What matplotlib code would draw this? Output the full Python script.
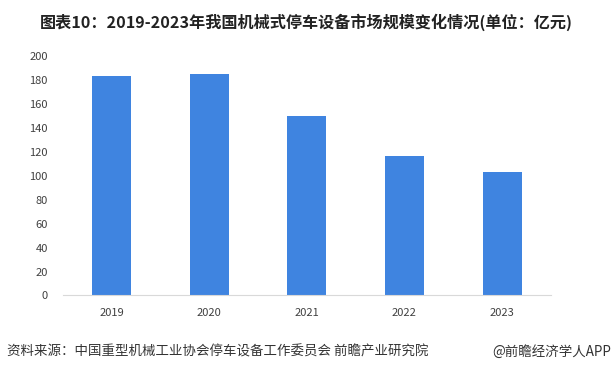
import numpy as np
import matplotlib
matplotlib.use('Agg')
import matplotlib.pyplot as plt

plt.rcParams['font.family'] = ['Noto Sans CJK SC', 'DejaVu Sans']
plt.rcParams['axes.unicode_minus'] = False

years = ['2019', '2020', '2021', '2022', '2023']
values = [183.5, 185, 150, 116.5, 103]
yticks = [0, 20, 40, 60, 80, 100, 120, 140, 160, 180, 200]

title = '图表10：2019-2023年我国机械式停车设备市场规模变化情况(单位：亿元)'
source = '资料来源：中国重型机械工业协会停车设备工作委员会 前瞻产业研究院'
brand = '@前瞻经济学人APP'

fig = plt.figure(figsize=(6.12, 3.74), dpi=100)
ax = fig.add_axes([0.103, 0.21, 0.797, 0.64])

x = np.arange(len(years))
ax.bar(x, values, width=0.4, color='#3f84e0')

ax.set_xlim(-0.5, len(years) - 0.5)
ax.set_ylim(0, 200)
ax.set_xticks(x)
ax.set_xticklabels(years)
ax.set_yticks(yticks)
ax.tick_params(axis='both', length=0, labelsize=8, colors='#404040')
ax.tick_params(axis='x', pad=9)
ax.tick_params(axis='y', pad=11)
for s in ['top', 'right', 'left']:
    ax.spines[s].set_visible(False)
ax.spines['bottom'].set_color('#d9d9d9')
ax.spines['bottom'].set_linewidth(0.8)

fig.text(0.5, 0.94, title, ha='center', va='center', fontsize=11.6,
         fontweight='bold', color='#222222')
fig.text(0.012, 0.06, source, ha='left', va='center', fontsize=9.7, color='#333333')
fig.text(0.998, 0.06, brand, ha='right', va='center', fontsize=9.7, color='#333333')

fig.savefig('out.png', dpi=100)
